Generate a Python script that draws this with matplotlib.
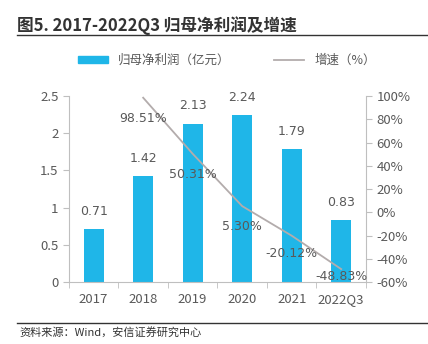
import numpy as np
import matplotlib.pyplot as plt
from matplotlib.lines import Line2D
from matplotlib.patches import Patch

plt.rcParams['font.family'] = ['Noto Sans CJK SC', 'DejaVu Sans']

# Data
years = ['2017', '2018', '2019', '2020', '2021', '2022Q3']
profit = [0.71, 1.42, 2.13, 2.24, 1.79, 0.83]
growth = [np.nan, 98.51, 50.31, 5.30, -20.12, -48.83]

barclr = '#1FB6E8'
lineclr = '#B3ACAC'
txtclr = '#595959'
spclr = '#BFBFBF'

fig = plt.figure(figsize=(4.28, 3.44), dpi=100, facecolor='white')
ax = fig.add_axes([0.161, 0.180, 0.694, 0.541])
ax2 = ax.twinx()

x = np.arange(len(years))
ax.bar(x, profit, width=0.4, color=barclr, zorder=2)
for xi, v in zip(x, profit):
    ax.annotate(f'{v:.2f}', (xi, v), xytext=(0, 8), textcoords='offset points',
                ha='center', va='bottom', fontsize=9, color=txtclr, family='DejaVu Sans')

ax.set_xlim(-0.5, len(years) - 0.5)
ax.set_ylim(0, 2.5)
ax.set_yticks([0, 0.5, 1, 1.5, 2, 2.5])
ax.set_yticklabels(['0', '0.5', '1', '1.5', '2', '2.5'])
ax.set_xticks(x)
ax.set_xticklabels(years)
ax.set_xticks(np.arange(-0.5, len(years), 1), minor=True)
ax.tick_params(axis='x', which='major', length=0, pad=8, labelsize=9.5, colors=txtclr)
ax.tick_params(axis='x', which='minor', length=4, color=spclr)
ax.tick_params(axis='y', length=4, color=spclr, labelsize=9.5, labelcolor=txtclr)
for s in ['top', 'right']:
    ax.spines[s].set_visible(False)
for s in ['left', 'bottom']:
    ax.spines[s].set_color(spclr)

ax2.plot(x, growth, color=lineclr, lw=1.3, zorder=3)
offsets = [0, -15, -15, -15, -13, -5]
for xi, g, off in zip(x, growth, offsets):
    if np.isnan(g):
        continue
    ax2.annotate(f'{g:.2f}%', (xi, g), xytext=(0, off), textcoords='offset points',
                 ha='center', va='center', fontsize=9, color=txtclr, family='DejaVu Sans')
ax2.set_ylim(-60, 100)
ax2.set_yticks(np.arange(-60, 101, 20))
ax2.set_yticklabels([f'{t}%' for t in range(-60, 101, 20)])
ax2.tick_params(axis='y', length=4, color=spclr, labelsize=9.5, labelcolor=txtclr)
for s in ['top', 'left', 'bottom']:
    ax2.spines[s].set_visible(False)
ax2.spines['right'].set_color(spclr)

# Title and rules
fig.text(0.040, 0.927, '图5. 2017-2022Q3 归母净利润及增速', fontsize=12, fontweight='bold',
         color='#333333', va='center')
fig.add_artist(Line2D([0.040, 1.0], [0.898, 0.898], color='#333333', lw=1.0))
fig.add_artist(Line2D([0.040, 1.0], [0.062, 0.062], color='#333333', lw=1.0))
fig.text(0.045, 0.033, '资料来源：Wind，安信证券研究中心', fontsize=8, style='italic',
         color='#333333', va='center')

handles = [Patch(color=barclr), Line2D([], [], color=lineclr, lw=1.3)]
fig.legend(handles, ['归母净利润（亿元）', '增速（%）'], loc='center',
           bbox_to_anchor=(0.53, 0.825), ncol=2, frameon=False, fontsize=9,
           handlelength=2.4, handleheight=0.5, columnspacing=3.5, labelcolor=txtclr)

plt.savefig('out.png', dpi=100)
